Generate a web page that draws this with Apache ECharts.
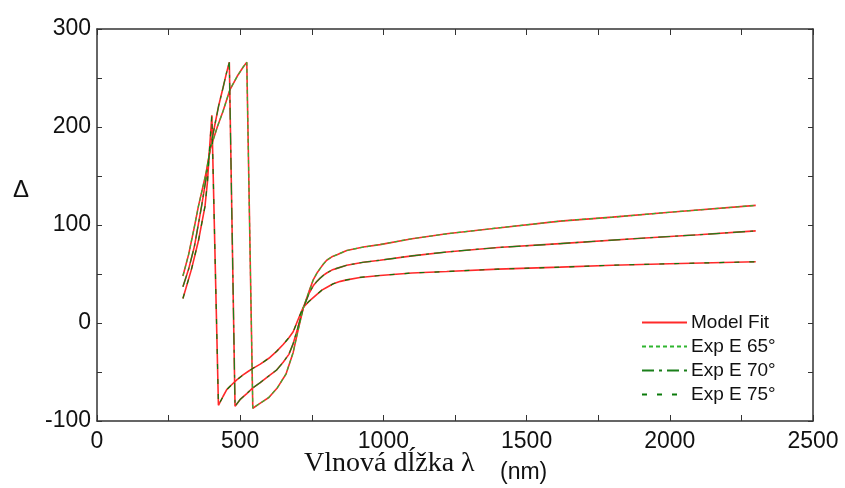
<!DOCTYPE html>
<html><head><meta charset="utf-8">
<script src="https://cdn.jsdelivr.net/npm/echarts@6/dist/echarts.min.js"></script>
<style>html,body{margin:0;padding:0;background:#fff}#c{width:845px;height:488px}</style>
</head><body><div id="c"></div>
<script>
// Wavelength (nm) and Delta (deg) for each angle of incidence
const wl65 = [300,320,340,354,380,395,420,440,464,490,510,523,544,569,600,630,660,685,700,720,740,755,768,780,790,802,820,840,872,930,988,1100,1221,1400,1617,1800,2000,2300];
const d65  = [48,70,98,119,152,177,200,216,238,252,261,266,-87,-82,-76,-66,-52,-30,-10,15,32,44,51,56,60,64,67.5,70,74,77.5,80,86,91,97,104,108,113,120];
const wl70 = [300,320,340,365,380,395,410,425,440,452,462,482,500,523,545,569,600,627,650,670,685,700,720,740,755,768,780,790,802,820,840,872,930,988,1100,1221,1400,1617,1900,2100,2300];
const d70  = [37,55,78,119,146,178,200,222,240,255,266,-85,-78,-72,-66,-61,-54,-48,-40,-32,-21,-6,15,30,38,42.5,46,48.5,51,54,56,59,62,64,68.5,72.5,77,81,86.5,90,94];
const wl75 = [300,330,355,377,386,393,401,424,440,453,470,488,510,530,546,570,600,627,650,670,685,700,720,740,767,785,800,825,850,872,918,988,1100,1221,1400,1617,1800,2000,2300];
const d75  = [25,55,85,119,145,178,212,-84,-75,-68,-63,-58,-53,-49,-46,-42,-36,-29,-22,-15,-9,2,16,22,29,33.5,36,40,42.5,44,46.5,48.5,51,52.5,55,57,59,60.5,62.5];
const legendNames = ['Model Fit','Exp E 65°','Exp E 70°','Exp E 75°'];
const xTicks = {min:0, max:2500, step:250, labelStep:500};
const yTicks = {min:-100, max:300, step:50, labelStep:100};

const pair = (xs, ys) => xs.map((x,i)=>[x, ys[i]]);
const RED = '#ff2a2a';
function fit(xs, ys){ return {name:legendNames[0], type:'line', data:pair(xs,ys), showSymbol:false, symbol:'none', smooth:false,
  lineStyle:{color:RED, width:1.6, type:'solid'}, itemStyle:{color:RED}, z:2, animation:false}; }
function exp(name, xs, ys, color, dash){ return {name, type:'line', data:pair(xs,ys), showSymbol:false, symbol:'none',
  lineStyle:{color, width:1.2, type:dash}, itemStyle:{color}, z:3, animation:false}; }

const axisLine = {show:true, onZero:false, lineStyle:{color:'#333', width:1.5}};
const lbl = {fontFamily:'Liberation Sans, Arial, sans-serif', fontSize:23, color:'#111'};
const chart = echarts.init(document.getElementById('c'), null, {renderer:'canvas'});
chart.setOption({
  animation:false,
  grid:{left:97, top:29, right:32, bottom:67, containLabel:false},
  xAxis:[
    {type:'value', min:xTicks.min, max:xTicks.max, interval:xTicks.step, position:'bottom',
     axisLine, axisTick:{show:true, inside:true, length:6, lineStyle:{color:'#333'}}, splitLine:{show:false},
     axisLabel:Object.assign({margin:9, formatter:v=> (v % xTicks.labelStep === 0 ? String(v) : '')}, lbl)},
    {type:'value', min:xTicks.min, max:xTicks.max, interval:xTicks.step, position:'top',
     axisLine, axisTick:{show:true, inside:true, length:6, lineStyle:{color:'#333'}}, splitLine:{show:false}, axisLabel:{show:false}}
  ],
  yAxis:[
    {type:'value', min:yTicks.min, max:yTicks.max, interval:yTicks.step, position:'left',
     axisLine, axisTick:{show:true, inside:true, length:5, lineStyle:{color:'#333'}}, splitLine:{show:false},
     axisLabel:Object.assign({margin:6, formatter:v=> (v % yTicks.labelStep === 0 ? String(v) : '')}, lbl)},
    {type:'value', min:yTicks.min, max:yTicks.max, interval:yTicks.step, position:'right',
     axisLine, axisTick:{show:true, inside:true, length:5, lineStyle:{color:'#333'}}, splitLine:{show:false}, axisLabel:{show:false}}
  ],
  legend:{data:legendNames, orient:'vertical', left:636, top:308, itemWidth:45, itemHeight:12, itemGap:5,
    itemStyle:{opacity:0},
    textStyle:{fontFamily:'Liberation Sans, Arial, sans-serif', fontSize:19, color:'#111', padding:[0,0,0,-1]},
    selectedMode:false},
  series:[
    fit(wl65,d65), fit(wl70,d70), fit(wl75,d75),
    exp(legendNames[1], wl65, d65, '#2fb52f', [4,3]),
    exp(legendNames[2], wl70, d70, '#1a7f1a', [12,5,3,5]),
    exp(legendNames[3], wl75, d75, '#0a7a0a', [5,10])
  ],
  graphic:[
    {type:'text', left:13, top:178, style:{text:'Δ', font:'24px "Liberation Sans", Arial, sans-serif', fill:'#111'}},
    {type:'text', left:304, top:450, style:{text:'Vlnová dĺžka λ', font:'28px "Liberation Serif", "Times New Roman", serif', fill:'#111'}},
    {type:'text', left:500, top:461, style:{text:'(nm)', font:'23px "Liberation Sans", Arial, sans-serif', fill:'#111'}}
  ]
});
</script></body></html>
